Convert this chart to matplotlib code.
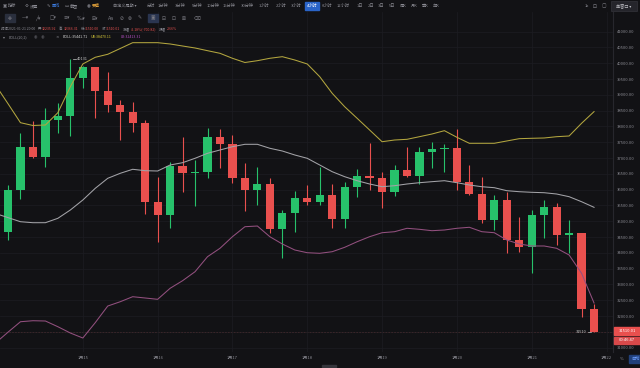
#!/usr/bin/env python3
import matplotlib
matplotlib.use("Agg")
import matplotlib.pyplot as plt
from matplotlib.patches import Rectangle

plt.rcParams['font.family'] = ['Noto Sans CJK SC', 'DejaVu Sans']

# 4h candles, 2021-01-14 00:00 .. 2021-01-21 20:00
opens = [34660, 35990, 37360, 37025, 38205, 38340, 39545, 39875, 39125, 38680, 38470, 38100,
         35600, 35200, 36750, 36520, 36570, 37680, 37435, 36360, 35990, 36170, 34755, 35255,
         35725, 35620, 35830, 35070, 36095, 36435, 36380, 35935, 36625, 36445, 37200, 37290,
         37330, 36250, 35860, 35040, 35670, 34405, 34175, 35200, 35460, 34565, 34640, 32235.92]
highs = [36150, 37800, 38175, 38575, 38745, 40131, 39900, 39890, 39735, 38840, 38785, 38205,
         36410, 36885, 37680, 36940, 37940, 37910, 37730, 36835, 36725, 36360, 35355, 35970,
         36150, 36725, 36170, 36250, 36645, 37485, 36570, 36780, 37340, 37340, 37520, 37445,
         37910, 36780, 36410, 35830, 35935, 35145, 35355, 35670, 35590, 35040, 34640, 32366.31]
lows = [34400, 35700, 37000, 36710, 37795, 37700, 39230, 38260, 38470, 37575, 37835, 35230,
        34350, 34780, 35935, 35495, 36360, 36680, 36200, 35335, 35515, 34620, 33830, 34670,
        35515, 35515, 34780, 34780, 35780, 35990, 35410, 35800, 36410, 36180, 36680, 36570,
        35990, 35830, 34955, 34725, 33985, 34040, 33355, 34460, 34250, 33985, 31980, 31510.00]
closes = [35990, 37360, 37025, 38205, 38340, 39545, 39875, 39125, 38680, 38470, 38100, 35600,
          35200, 36750, 36520, 36570, 37680, 37435, 36360, 35990, 36170, 34755, 35255, 35725,
          35620, 35830, 35070, 36095, 36435, 36380, 35935, 36625, 36445, 37200, 37290, 37330,
          36250, 35860, 35040, 35670, 34405, 34175, 35200, 35460, 34565, 34640, 32235.92, 31510.01]

# BOLL(20,2), starts one candle before the first visible one
boll_ub = [39313, 38721, 38120, 38031, 38047, 38436, 39259, 39978, 40190, 40285, 40468, 40652,
           40652, 40652, 40611, 40547, 40484, 40399, 40316, 40158, 40025, 40082, 40158, 40209,
           40104, 39978, 39576, 39050, 38626, 38259, 37889, 37518, 37572, 37594, 37677, 37762,
           37867, 37658, 37468, 37468, 37468, 37541, 37614, 37626, 37636, 37677, 37699, 38101, 38470.11]
boll_mid = [35246, 35116, 34986, 34955, 34955, 35094, 35357, 35673, 36044, 36360, 36518, 36645,
            36601, 36591, 36781, 36854, 36993, 37151, 37256, 37360, 37436, 37436, 37310, 37224,
            37098, 36993, 36781, 36569, 36411, 36284, 36180, 36094, 36126, 36180, 36221, 36253,
            36284, 36221, 36148, 36094, 36063, 35968, 35936, 35917, 35904, 35863, 35778, 35619, 35441.71]
boll_lb = [31150, 31490, 31821, 31853, 31844, 31663, 31464, 31306, 31793, 32318, 32454, 32613,
           32572, 32530, 32879, 33119, 33404, 33879, 34145, 34512, 34828, 34850, 34512, 34281,
           34091, 34005, 33986, 34037, 34176, 34353, 34512, 34638, 34670, 34778, 34746, 34702,
           34724, 34778, 34810, 34670, 34638, 34407, 34281, 34218, 34218, 34145, 33933, 33353, 32413.31]

date_labels = ["1月15", "1月16", "1月17", "1月18", "1月19", "1月20", "1月21", "1月22"]
date_index = [6, 12, 18, 24, 30, 36, 42, 48]
price_ticks = list(range(31000, 41001, 500))

BG = "#121215"
GRID = "#1d1d22"
TXT = "#8a8a92"
UP = "#27c16b"
DOWN = "#e9504e"
BLUE = "#3d7fe6"
RED_TXT = "#e5504e"


def px(x):
    return x / 640.0


def py(y):
    return 1 - y / 368.0


def ftext(fig, x, y, s, size=3.0, color=TXT, ha="left", **kw):
    return fig.text(px(x), py(y), s, fontsize=size, color=color, ha=ha, va="center", **kw)


def text_row(fig, x, y, parts, size, gap=1.5):
    # lay out pieces one after another, using the real text widths
    r = fig.canvas.get_renderer()
    for s, color, extra in parts:
        t = ftext(fig, x, y, s, size, color)
        x += t.get_window_extent(renderer=r).width + gap + extra


def main():
    fig = plt.figure(figsize=(6.4, 3.68), dpi=100, facecolor=BG)
    ax = fig.add_axes([0, py(352), px(613), py(12) - py(352)])
    ax.set_facecolor(BG)

    n = len(opens)
    xs = list(range(n))
    cols = [UP if c >= o else DOWN for o, c in zip(opens, closes)]
    bottoms = [min(o, c) for o, c in zip(opens, closes)]
    heights = [max(abs(c - o), 35) for o, c in zip(opens, closes)]

    ax.vlines(xs, lows, highs, colors=cols, lw=0.8, zorder=2)
    ax.bar(xs, heights, bottom=bottoms, width=0.66, color=cols, zorder=3)

    bx = list(range(-1, n))
    ax.plot(bx, boll_ub, color="#b3a63f", lw=0.75, zorder=4)
    ax.plot(bx, boll_mid, color="#a3a3a8", lw=0.75, zorder=4)
    ax.plot(bx, boll_lb, color="#93507f", lw=0.75, zorder=4)

    ax.axhline(closes[-1], color="#8a3d3d", lw=0.6, ls=(0, (2, 1.5)), zorder=1)

    # high / low markers
    ax.plot([5.19, 5.45], [40131, 40131], color="#c8c8c8", lw=0.5)
    ax.text(5.53, 40131, "40131", fontsize=2.8, color="#c8c8c8", va="center")
    ax.plot([46.5, 46.75], [31510, 31510], color="#c8c8c8", lw=0.5)
    ax.text(46.43, 31510, "31510", fontsize=2.8, color="#c8c8c8", va="center", ha="right")

    ax.set_xlim(-0.6415, 48.52)
    ax.set_ylim(30863, 41623)
    ax.set_xticks(date_index)
    ax.set_xticklabels(date_labels)
    ax.set_yticks(price_ticks)
    ax.set_yticklabels(["%.2f" % p for p in price_ticks])
    ax.yaxis.tick_right()
    ax.tick_params(axis="x", length=0, labelsize=3.0, colors=TXT, pad=2.6)
    ax.tick_params(axis="y", length=0, labelsize=3.0, colors=TXT, pad=2.8)
    ax.grid(color=GRID, lw=0.5)
    for s in ["top", "left", "bottom"]:
        ax.spines[s].set_visible(False)
    ax.spines["right"].set_color("#27272d")
    ax.spines["right"].set_linewidth(0.8)

    # current price boxes on the axis
    fig.patches.append(Rectangle((px(614), py(335)), px(26), 8 / 368, transform=fig.transFigure,
                                 color=DOWN, zorder=5))
    fig.patches.append(Rectangle((px(614), py(344)), px(26), 7.5 / 368, transform=fig.transFigure,
                                 color="#d8494a", zorder=5))
    ftext(fig, 627, 331, "31510.01", 3.0, "white", ha="center", zorder=6)
    ftext(fig, 627, 340.3, "00:46:47", 3.0, "white", ha="center", zorder=6)

    # top tabs
    icons = [(3, "▣"), (25, "⚙"), (47, "✎"), (65, "▭"), (87, "◉")]
    for x, s in icons:
        ftext(fig, x, 6, s, 3.2, TXT, family="DejaVu Sans")
    ftext(fig, 8, 6, "指标", 3.0)
    ftext(fig, 30, 6, "设置", 3.0)
    ftext(fig, 52, 6, "画线", 3.0, BLUE)
    ftext(fig, 70, 6, "截图", 3.0)
    ftext(fig, 92, 6, "要素", 3.0, "#e2a13a")
    ftext(fig, 113, 6, "自定义周期 ▾", 3.0)
    tabs = [(147, "分时"), (158, "1分钟"), (175, "3分钟"), (192, "5分钟"), (207, "10分钟"),
            (223, "15分钟"), (241, "30分钟"), (259, "1小时"), (276, "2小时"), (291, "3小时"),
            (322, "6小时"), (337, "12小时"), (357, "1日"), (368, "2日"), (378, "3日"),
            (389, "5日"), (400, "周K"), (411, "月K"), (422, "季K"), (433, "年K")]
    for x, s in tabs:
        ftext(fig, x, 6, s, 3.0)
    fig.patches.append(Rectangle((px(305), py(10)), px(14), 8 / 368, transform=fig.transFigure,
                                 color="#2a64c8", zorder=1))
    ftext(fig, 312, 6, "4小时", 3.0, "white", ha="center", zorder=3)
    ftext(fig, 585, 6, "1x", 3.0)
    ftext(fig, 593, 6, "⊡", 3.4, TXT, family="DejaVu Sans")
    ftext(fig, 602, 6, "▢", 3.4, TXT, family="DejaVu Sans")
    fig.patches.append(Rectangle((px(611), py(10.5)), px(26), 9 / 368, transform=fig.transFigure,
                                 facecolor="#25252b", edgecolor="#3a3a42", lw=0.4, zorder=1))
    ftext(fig, 624, 6, "单窗口 ▾", 3.0, "#c0c0c6", ha="center", zorder=3)

    # drawing toolbar
    tools = [(8, "✥"), (22, "—▾"), (35, "╱▾"), (50, "□▾"), (63, "≡▾"), (77, "‰▾"),
             (92, "⊞▾"), (108, "Aa"), (120, "⊘"), (128, "⊗"), (138, "✎"), (151, "▣"),
             (162, "⊟"), (172, "⊡"), (182, "⊠"), (193, "⌫")]
    for x, s in tools:
        ftext(fig, x, 18, s, 3.4, "#7c7c84", family="DejaVu Sans")
    fig.patches.append(Rectangle((px(5), py(22)), px(10), 8 / 368, transform=fig.transFigure,
                                 color="#2a2f3d", zorder=1))
    fig.patches.append(Rectangle((px(148), py(22)), px(10), 8 / 368, transform=fig.transFigure,
                                 color="#2a3550", zorder=1))

    # info line
    text_row(fig, 1, 29, [
        ("时间2021-01-21 20:00", TXT, 1), ("开", TXT, -0.5), ("32235.92", RED_TXT, 1),
        ("高", TXT, -0.5), ("32366.31", RED_TXT, 1), ("低", TXT, -0.5), ("31510.00", RED_TXT, 1),
        ("收", TXT, -0.5), ("31510.01", RED_TXT, 1), ("涨幅", TXT, -0.5),
        ("-2.18%(-700.82)", RED_TXT, 1), ("振幅", TXT, -0.5), ("2.66%", RED_TXT, 0),
    ], 2.5)

    ftext(fig, 3, 37, "▾", 2.8, TXT, family="DejaVu Sans")
    ftext(fig, 9, 37, "BOLL(20,2)", 2.6)
    ftext(fig, 34, 37, "◉   ◉", 2.8, "#55555c", family="DejaVu Sans")
    ftext(fig, 55, 37, "×", 3.0, TXT, family="DejaVu Sans")
    text_row(fig, 63, 37, [
        ("BOLL:35441.71", "#d8d8d8", 1), ("UB:38470.11", "#d6c83a", 8),
        ("LB:32413.31", "#b34fc2", 0),
    ], 2.6)

    # bottom right controls and drag handle
    ftext(fig, 620, 359, "%", 3.0)
    fig.patches.append(Rectangle((px(629), py(363)), px(11), 8 / 368, transform=fig.transFigure,
                                 color="#21407a", zorder=1))
    ftext(fig, 631, 359, "自动", 3.0, "#6fa0ff", zorder=3)
    fig.patches.append(Rectangle((px(322), py(367)), px(14), 2.5 / 368, transform=fig.transFigure,
                                 color="#35353b", zorder=1))

    fig.savefig("out.png", dpi=100, facecolor=BG)


if __name__ == "__main__":
    main()
